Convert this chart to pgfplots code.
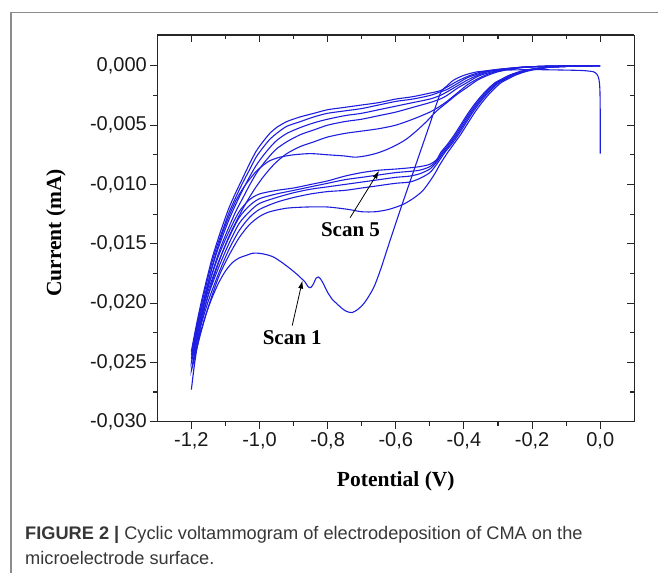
\documentclass[border=0pt]{standalone}
\usepackage{fontspec}
\setmainfont{Liberation Serif}
\newfontfamily\arialfont{Liberation Sans}
\usepackage{pgfplots}
\pgfplotsset{compat=1.18}
\usetikzlibrary{arrows.meta}
\definecolor{cvblue}{RGB}{30,30,225}
\definecolor{capgray}{RGB}{55,55,55}
\definecolor{framegray}{RGB}{140,140,140}
\begin{document}
\begin{tikzpicture}
\useasboundingbox (0,0) rectangle (658bp,573bp);
\draw[framegray, line width=1.5bp] (11bp,0) -- (11bp,560.7bp) -- (658bp,560.7bp);
\pgfplotsset{
  cvbase/.style={
    at={(157.3bp,151.3bp)}, anchor=south west,
    scale only axis, width=477bp, height=386.7bp,
    xmin=-1.3, xmax=0.1, ymin=-0.03, ymax=0.0026,
    axis line style={-, line width=1.2bp, black!85},
    xtick={-1.2,-1,-0.8,-0.6,-0.4,-0.2,0},
    ytick={-0.03,-0.025,-0.02,-0.015,-0.01,-0.005,0},
    minor x tick num=1, minor y tick num=1,
    major tick length=7bp, minor tick length=4bp,
    every tick/.style={black!85, line width=1.1bp},
    scaled y ticks=false, scaled x ticks=false,
  },
  cv/.style={color=cvblue, mark=none, line width=1.1bp, smooth, tension=0.45},
}
\begin{axis}[cvbase,
  axis x line*=top, axis y line*=right,
  tick align=inside,
  xticklabels={}, yticklabels={},
]
\end{axis}
\begin{axis}[cvbase,
  axis x line*=bottom, axis y line*=left,
  tick align=outside,
  xticklabels={{-1,2},{-1,0},{-0,8},{-0,6},{-0,4},{-0,2},{0,0}},
  yticklabels={{-0,030},{-0,025},{-0,020},{-0,015},{-0,010},{-0,005},{0,000}},
  tick label style={font=\arialfont\fontsize{20bp}{22bp}\selectfont, text=black!90},
  xlabel={Potential (V)},
  ylabel={Current (mA)},
  xlabel style={at={(axis description cs:0.5,-0.153)}, anchor=center, font=\bfseries\fontsize{21.5bp}{24bp}\selectfont},
  ylabel style={at={(axis description cs:-0.2124,0.488)}, anchor=center, rotate=0, font=\bfseries\fontsize{21.5bp}{24bp}\selectfont},
  clip=false,
]
% Scan 1
\addplot[cv] coordinates {(0.000,-0.0074) (0.000,-0.0040) (-0.001,-0.0020) (-0.004,-0.0011) (-0.010,-0.0007) (-0.020,-0.0005) (-0.050,-0.0004) (-0.100,-0.00036) (-0.200,-0.00032) (-0.300,-0.00038) (-0.360,-0.0005) (-0.400,-0.0008) (-0.430,-0.0012) (-0.450,-0.0017) (-0.469,-0.0023) (-0.500,-0.0049) (-0.530,-0.0074) (-0.560,-0.0099) (-0.590,-0.0124) (-0.620,-0.0150) (-0.645,-0.0172) (-0.665,-0.0187) (-0.690,-0.0199) (-0.710,-0.0205) (-0.728,-0.0208) (-0.745,-0.0207) (-0.760,-0.0204) (-0.775,-0.0200) (-0.786,-0.0197) (-0.800,-0.0191) (-0.812,-0.0184) (-0.820,-0.0180) (-0.827,-0.0178) (-0.834,-0.0179) (-0.842,-0.0184) (-0.850,-0.0187) (-0.858,-0.0186) (-0.867,-0.0182) (-0.878,-0.0179) (-0.889,-0.0176) (-0.910,-0.0171) (-0.933,-0.0166) (-0.960,-0.0161) (-0.982,-0.0159) (-1.002,-0.0158) (-1.020,-0.0158) (-1.041,-0.0160) (-1.060,-0.0162) (-1.080,-0.0166) (-1.100,-0.0173) (-1.120,-0.0183) (-1.140,-0.0196) (-1.159,-0.0211) (-1.175,-0.0227) (-1.188,-0.0245) (-1.200,-0.0273)
(-1.19,-0.0250) (-1.175,-0.0222) (-1.16,-0.0197) (-1.145,-0.0176) (-1.13,-0.0160) (-1.11,-0.0142) (-1.09,-0.0127) (-1.07,-0.0114) (-1.05,-0.0104) (-1.03,-0.0096) (-1.01,-0.0089) (-0.99,-0.0084) (-0.97,-0.0080) (-0.94,-0.0077) (-0.90,-0.0075) (-0.85,-0.0074) (-0.80,-0.0075) (-0.75,-0.0076) (-0.72,-0.0077) (-0.69,-0.0076) (-0.66,-0.0074) (-0.63,-0.0071) (-0.60,-0.0067) (-0.57,-0.0062) (-0.54,-0.0055) (-0.51,-0.0047) (-0.48,-0.0038) (-0.45,-0.0031) (-0.42,-0.0024) (-0.39,-0.0018) (-0.36,-0.0012) (-0.33,-0.0008) (-0.30,-0.0005) (-0.26,-0.00027) (-0.22,-0.00012) (-0.15,-0.00003) (-0.05,0) (0,0)};
% Scan 2
\addplot[cv] coordinates {(0,0) (-0.05,-0.00002) (-0.10,-0.00005) (-0.15,-0.00012) (-0.19,-0.0003) (-0.22,-0.0005) (-0.25,-0.0008) (-0.27,-0.0011) (-0.29,-0.0014) (-0.31,-0.0019) (-0.33,-0.0025) (-0.35,-0.0032) (-0.37,-0.0040) (-0.39,-0.0049) (-0.41,-0.0058) (-0.43,-0.0066) (-0.45,-0.0074) (-0.47,-0.0083) (-0.49,-0.0093) (-0.52,-0.0105) (-0.55,-0.0112) (-0.58,-0.0117) (-0.62,-0.0121) (-0.66,-0.0123) (-0.70,-0.0123) (-0.74,-0.0121) (-0.80,-0.0119) (-0.86,-0.0119) (-0.92,-0.0120) (-0.97,-0.0123) (-1.00,-0.0127) (-1.03,-0.0134) (-1.06,-0.0145) (-1.09,-0.0160) (-1.12,-0.0178) (-1.15,-0.0203) (-1.175,-0.0228) (-1.2,-0.0257)
(-1.185,-0.0234) (-1.17,-0.0215) (-1.155,-0.0198) (-1.14,-0.0183) (-1.125,-0.0170) (-1.11,-0.0158) (-1.09,-0.0144) (-1.07,-0.0132) (-1.05,-0.0121) (-1.03,-0.0111) (-1.01,-0.0102) (-0.99,-0.0094) (-0.97,-0.0087) (-0.95,-0.0081) (-0.92,-0.0074) (-0.88,-0.0068) (-0.84,-0.0064) (-0.80,-0.0060) (-0.75,-0.0057) (-0.70,-0.0055) (-0.65,-0.0053) (-0.60,-0.0050) (-0.55,-0.0045) (-0.50,-0.0039) (-0.47,-0.0034) (-0.45,-0.0030) (-0.42,-0.0023) (-0.39,-0.0016) (-0.36,-0.0011) (-0.33,-0.0007) (-0.30,-0.00045) (-0.26,-0.00025) (-0.22,-0.00012) (-0.15,-0.00003) (-0.05,0) (0,0)};
% Scan 3
\addplot[cv] coordinates {(0,0) (-0.05,-0.00002) (-0.10,-0.00005) (-0.15,-0.00012) (-0.196,-0.0003) (-0.226,-0.0005) (-0.256,-0.0008) (-0.276,-0.0011) (-0.296,-0.0014) (-0.316,-0.0019) (-0.336,-0.0025) (-0.356,-0.0032) (-0.376,-0.0040) (-0.396,-0.0049) (-0.416,-0.0058) (-0.436,-0.0066) (-0.456,-0.0073) (-0.48,-0.0083) (-0.50,-0.0090) (-0.53,-0.0095) (-0.56,-0.0098) (-0.60,-0.0099) (-0.65,-0.0101) (-0.70,-0.0103) (-0.75,-0.0105) (-0.80,-0.0106) (-0.85,-0.0108) (-0.90,-0.0111) (-0.95,-0.0115) (-1.00,-0.0121) (-1.03,-0.0128) (-1.06,-0.0139) (-1.09,-0.0155) (-1.12,-0.0175) (-1.15,-0.0198) (-1.175,-0.0222) (-1.2,-0.0250)
(-1.185,-0.0228) (-1.17,-0.0209) (-1.155,-0.0191) (-1.14,-0.0176) (-1.125,-0.0162) (-1.11,-0.0150) (-1.09,-0.0136) (-1.07,-0.0123) (-1.05,-0.0112) (-1.03,-0.0101) (-1.01,-0.0091) (-0.99,-0.0083) (-0.97,-0.0076) (-0.95,-0.0070) (-0.92,-0.0064) (-0.88,-0.0058) (-0.84,-0.0054) (-0.80,-0.0050) (-0.75,-0.0047) (-0.70,-0.0045) (-0.65,-0.0042) (-0.60,-0.0039) (-0.55,-0.0035) (-0.50,-0.0031) (-0.47,-0.0028) (-0.45,-0.0025) (-0.42,-0.0019) (-0.39,-0.0014) (-0.36,-0.0009) (-0.33,-0.0006) (-0.30,-0.0004) (-0.26,-0.00022) (-0.22,-0.0001) (-0.15,-0.00003) (-0.05,0) (0,0)};
% Scan 4
\addplot[cv] coordinates {(0,0) (-0.05,-0.00002) (-0.10,-0.00005) (-0.15,-0.00012) (-0.20,-0.0003) (-0.23,-0.0005) (-0.26,-0.0008) (-0.28,-0.0011) (-0.30,-0.0014) (-0.32,-0.0019) (-0.34,-0.0025) (-0.36,-0.0032) (-0.38,-0.0040) (-0.40,-0.0049) (-0.42,-0.0058) (-0.44,-0.0066) (-0.46,-0.0073) (-0.48,-0.0081) (-0.50,-0.0087) (-0.53,-0.0091) (-0.56,-0.0093) (-0.60,-0.0094) (-0.65,-0.0096) (-0.70,-0.0098) (-0.75,-0.0100) (-0.80,-0.0102) (-0.85,-0.0104) (-0.90,-0.0107) (-0.95,-0.0111) (-1.00,-0.0116) (-1.03,-0.0123) (-1.06,-0.0133) (-1.09,-0.0150) (-1.12,-0.0170) (-1.15,-0.0193) (-1.175,-0.0218) (-1.2,-0.0247)
(-1.185,-0.0225) (-1.17,-0.0205) (-1.155,-0.0187) (-1.14,-0.0171) (-1.125,-0.0157) (-1.11,-0.0145) (-1.09,-0.0130) (-1.07,-0.0117) (-1.05,-0.0105) (-1.03,-0.0094) (-1.01,-0.0084) (-0.99,-0.0076) (-0.97,-0.0069) (-0.95,-0.0063) (-0.92,-0.0057) (-0.88,-0.0052) (-0.84,-0.0048) (-0.80,-0.0045) (-0.75,-0.0042) (-0.70,-0.0040) (-0.65,-0.0037) (-0.60,-0.0034) (-0.55,-0.0031) (-0.50,-0.0028) (-0.47,-0.0025) (-0.45,-0.0022) (-0.42,-0.0017) (-0.39,-0.0012) (-0.36,-0.0008) (-0.33,-0.0005) (-0.30,-0.00035) (-0.26,-0.0002) (-0.22,-0.0001) (-0.15,-0.00003) (-0.05,0) (0,0)};
% Scan 5
\addplot[cv] coordinates {(0,0) (-0.05,-0.00002) (-0.10,-0.00005) (-0.15,-0.00012) (-0.204,-0.0003) (-0.234,-0.0005) (-0.264,-0.0008) (-0.284,-0.0011) (-0.304,-0.0014) (-0.324,-0.0019) (-0.344,-0.0025) (-0.364,-0.0032) (-0.384,-0.0040) (-0.404,-0.0049) (-0.424,-0.0058) (-0.444,-0.0066) (-0.464,-0.0073) (-0.48,-0.0080) (-0.50,-0.0085) (-0.53,-0.0088) (-0.56,-0.0089) (-0.60,-0.0090) (-0.65,-0.0092) (-0.70,-0.0094) (-0.75,-0.0096) (-0.80,-0.0099) (-0.85,-0.0102) (-0.90,-0.0105) (-0.95,-0.0108) (-1.00,-0.0112) (-1.03,-0.0118) (-1.06,-0.0128) (-1.09,-0.0145) (-1.12,-0.0165) (-1.15,-0.0189) (-1.175,-0.0214) (-1.2,-0.0244)
(-1.185,-0.0221) (-1.17,-0.0201) (-1.155,-0.0183) (-1.14,-0.0166) (-1.125,-0.0152) (-1.11,-0.0140) (-1.09,-0.0124) (-1.07,-0.0111) (-1.05,-0.0099) (-1.03,-0.0088) (-1.01,-0.0077) (-0.99,-0.0069) (-0.97,-0.0062) (-0.95,-0.0057) (-0.92,-0.0051) (-0.88,-0.0047) (-0.84,-0.0043) (-0.80,-0.0040) (-0.75,-0.0038) (-0.70,-0.0036) (-0.65,-0.0033) (-0.60,-0.0030) (-0.55,-0.0028) (-0.50,-0.0025) (-0.47,-0.0022) (-0.45,-0.0020) (-0.42,-0.0015) (-0.39,-0.0010) (-0.36,-0.0007) (-0.33,-0.00045) (-0.30,-0.0003) (-0.26,-0.0002) (-0.22,-0.0001) (-0.15,-0.00003) (-0.05,0) (0,0)};
% Scan 6
\addplot[cv] coordinates {(0,0) (-0.05,-0.00002) (-0.10,-0.00005) (-0.15,-0.00012) (-0.208,-0.0003) (-0.238,-0.0005) (-0.268,-0.0008) (-0.288,-0.0011) (-0.308,-0.0014) (-0.328,-0.0019) (-0.348,-0.0025) (-0.368,-0.0032) (-0.388,-0.0040) (-0.408,-0.0049) (-0.428,-0.0058) (-0.448,-0.0066) (-0.468,-0.0073) (-0.48,-0.0079) (-0.50,-0.0083) (-0.53,-0.0085) (-0.56,-0.0086) (-0.60,-0.0087) (-0.65,-0.0088) (-0.70,-0.0090) (-0.75,-0.0093) (-0.80,-0.0097) (-0.85,-0.0100) (-0.90,-0.0103) (-0.95,-0.0105) (-1.00,-0.0108) (-1.03,-0.0113) (-1.06,-0.0123) (-1.09,-0.0140) (-1.12,-0.0160) (-1.15,-0.0185) (-1.175,-0.0210) (-1.2,-0.0241)
(-1.185,-0.0218) (-1.17,-0.0198) (-1.155,-0.0180) (-1.14,-0.0163) (-1.125,-0.0149) (-1.11,-0.0136) (-1.09,-0.0120) (-1.07,-0.0107) (-1.05,-0.0095) (-1.03,-0.0083) (-1.01,-0.0072) (-0.99,-0.0064) (-0.97,-0.0057) (-0.95,-0.0052) (-0.92,-0.0047) (-0.88,-0.0043) (-0.84,-0.0040) (-0.80,-0.0037) (-0.75,-0.0035) (-0.70,-0.0033) (-0.65,-0.0031) (-0.60,-0.0028) (-0.55,-0.0026) (-0.50,-0.0023) (-0.47,-0.0021) (-0.45,-0.0018) (-0.42,-0.0013) (-0.39,-0.0009) (-0.36,-0.0006) (-0.33,-0.0004) (-0.30,-0.0003) (-0.26,-0.00018) (-0.22,-0.0001) (-0.15,-0.00003) (-0.05,0) (0,0)};
% annotations
\node[font=\bfseries\fontsize{21bp}{24bp}\selectfont, inner sep=0pt] at (axis cs:-0.733,-0.01385) {Scan 5};
\draw[black, line width=0.8bp, -{Latex[length=8bp,width=5bp]}] (axis cs:-0.734,-0.0128) -- (axis cs:-0.649,-0.00885);
\node[font=\bfseries\fontsize{21bp}{24bp}\selectfont, inner sep=0pt] at (axis cs:-0.904,-0.0229) {Scan 1};
\draw[black, line width=0.8bp, -{Latex[length=8bp,width=5bp]}] (axis cs:-0.904,-0.0219) -- (axis cs:-0.874,-0.0181);
\end{axis}
\node[anchor=base west, inner sep=0pt, text=capgray, font=\arialfont\fontsize{18.2bp}{20bp}\selectfont] at (25bp,34bp) {\textbf{FIGURE 2 |} Cyclic voltammogram of electrodeposition of CMA on the};
\node[anchor=base west, inner sep=0pt, text=capgray, font=\arialfont\fontsize{18.2bp}{20bp}\selectfont] at (25bp,9bp) {microelectrode surface.};
\end{tikzpicture}
\end{document}
